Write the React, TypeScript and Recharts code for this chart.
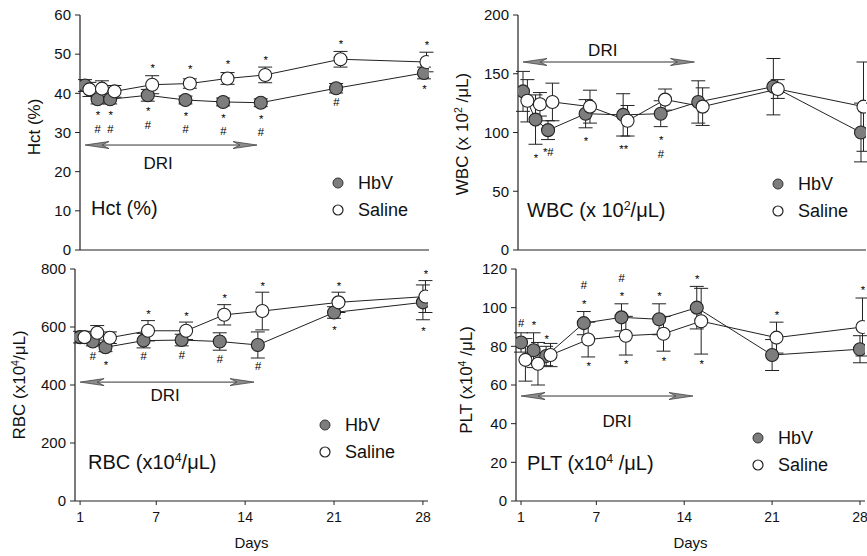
import React from 'react';
import { LineChart, Line, XAxis, YAxis, ErrorBar, ReferenceLine } from 'recharts';

const FONT = '"Liberation Sans", Arial, Helvetica, sans-serif';
const INK = '#111';
const HBV_FILL = '#7d7d7d';
const R = 6.5;

// sampling days (saline points are drawn slightly to the right, as in the figure)
const DAYS = [1, 2, 3, 6, 9, 12, 15, 21, 28];
const SALINE_DAYS = [1.35, 2.35, 3.35, 6.35, 9.35, 12.35, 15.35, 21.35, 28.2];
const DAY_TICKS = [1, 7, 14, 21, 28];
const DAY_DOMAIN = [0.6, 28.4];
const DRI_SPAN = [1, 14.7];

// Hct (%)
const hctTicks = [0, 10, 20, 30, 40, 50, 60];
const hctHbv = [42, 38.5, 38.5, 39.5, 38.3, 37.8, 37.6, 41.3, 45.2];
const hctHbvErr = [1.5, 1.2, 1.2, 1.5, 1, 1, 1, 1.2, 1.5];
const hctSaline = [41, 41.2, 40.5, 42.2, 42.5, 43.8, 44.7, 48.7, 48];
const hctSalineErr = [1.8, 2, 1.5, 2.3, 1.2, 1.5, 2, 2, 2.5];
const hctHbvBelow = ['', '*\n#', '*\n#', '*\n#', '*\n#', '*\n#', '*\n#', '#', '*'];
const hctSalineAbove = ['', '', '', '*', '*', '*', '*', '*', '*'];

// WBC (x10^2/uL)
const wbcTicks = [0, 50, 100, 150, 200];
const wbcHbv = [135, 111, 102, 116, 115, 116, 126, 139, 100];
const wbcHbvErr = [17, 21, 8, 12, 18, 11, 18, 24, 25];
const wbcSaline = [127, 124, 126, 122, 110, 128, 122, 137, 122];
const wbcSalineErr = [18, 10, 16, 14, 13, 9, 16, 8, 38];
const wbcHbvBelow = ['', '*', '*#', '*', '**', '*\n#', '', '', ''];

// RBC (x10^4/uL)
const rbcTicks = [0, 200, 400, 600, 800];
const rbcHbv = [565, 550, 530, 553, 555, 550, 538, 650, 685];
const rbcHbvErr = [20, 15, 15, 25, 20, 30, 45, 20, 60];
const rbcSaline = [565, 580, 563, 587, 587, 642, 655, 685, 705];
const rbcSalineErr = [20, 25, 20, 35, 30, 35, 65, 35, 55];
const rbcHbvBelow = ['', '#', '*', '#', '#', '#', '#', '*', '*'];
const rbcSalineAbove = ['', '', '', '*', '*', '*', '*', '*', '*'];

// PLT (x10^4/uL)
const pltTicks = [0, 20, 40, 60, 80, 100, 120];
const pltHbv = [82, 78, 75, 92, 95, 94, 100, 75.5, 78.5];
const pltHbvErr = [5, 9, 5, 6, 7, 8, 11, 8, 7];
const pltSaline = [73, 71, 75.5, 83.5, 85.5, 86.5, 93, 84.5, 90];
const pltSalineErr = [11, 11, 6, 9, 10, 9, 17, 8, 15];
const pltHbvAbove = ['#', '*', '*', '#\n*', '#\n*', '*', '*', '', ''];
const pltSalineAbove = ['', '', '', '', '', '', '', '*', '*'];
const pltSalineBelow = ['', '', '', '*', '*', '*', '*', '', ''];

type Row = { day: number; value: number; err: number; above: string; below: string };

const rows = (days: number[], values: number[], errs: number[], above: string[] = [], below: string[] = []): Row[] =>
  values.map((v, i) => ({ day: days[i], value: v, err: errs[i], above: above[i] || '', below: below[i] || '' }));

const NOTE_SIZE = 11.5;
const LINE_STEP = 16;
// vertical centre of the glyphs above their baseline
const glyphOffset = (t: string) => NOTE_SIZE * (t.includes('#') ? (t.includes('*') ? 0.45 : 0.34) : 0.56);

const Note = ({ x, c, t }: { x: number; c: number; t: string }) => (
  <text x={x} y={c + glyphOffset(t)} textAnchor="middle" fontSize={NOTE_SIZE} fontStyle="italic" fill="#000" fontFamily={FONT}>
    {t}
  </text>
);

const makeDot = (fill: string, ppu: number, gapAbove: number, gapBelow: number) => (props: any) => {
  const { cx, cy, payload, index } = props;
  if (cx == null || cy == null) return <g key={`e-${index}`} />;
  const ext = Math.max(R, payload.err * ppu);
  const above: string[] = payload.above ? payload.above.split('\n') : [];
  const below: string[] = payload.below ? payload.below.split('\n') : [];
  return (
    <g key={`d-${index}`}>
      <circle cx={cx} cy={cy} r={R} fill={fill} stroke="#222" strokeWidth={1.1} />
      {below.map((t, k) => (
        <Note key={`b${k}`} x={cx} c={cy + ext + gapBelow + k * LINE_STEP} t={t} />
      ))}
      {above.map((t, k) => (
        <Note key={`a${k}`} x={cx} c={cy - ext - gapAbove - (above.length - 1 - k) * LINE_STEP} t={t} />
      ))}
    </g>
  );
};

const driShape = (dx: number, dy: number) => (p: any) => {
  const { x1, x2, y1 } = p;
  const y = y1;
  const head = (tip: number, dir: number) =>
    `${tip},${y} ${tip + dir * 24},${y - 3.5} ${tip + dir * 17},${y} ${tip + dir * 24},${y + 3.5}`;
  return (
    <g>
      <line x1={x1 + 10} x2={x2 - 10} y1={y} y2={y} stroke="#333" strokeWidth={1} />
      <polygon points={head(x1, 1)} fill="#8c8c8c" stroke="#444" strokeWidth={0.8} />
      <polygon points={head(x2, -1)} fill="#8c8c8c" stroke="#444" strokeWidth={0.8} />
      <text x={(x1 + x2) / 2 + dx} y={y + dy + 6} textAnchor="middle" fontSize={17} fill={INK} fontFamily={FONT}>
        DRI
      </text>
    </g>
  );
};

type PanelCfg = {
  key: string;
  left: number;
  top: number;
  width: number;
  height: number;
  plotLeft: number;
  plotRight: number;
  plotTop: number;
  plotBottom: number;
  yMax: number;
  yTicks: number[];
  showX: boolean;
  hbv: Row[];
  saline: Row[];
  driY: number;
  driDx: number;
  driDy: number;
  gapAbove: number;
  gapBelow: number;
  yLabel: React.ReactNode;
  yLabelPos: { x: number; y: number };
  title: React.ReactNode;
  titlePos: { x: number; y: number };
  keyPos: { x: number; y: number };
};

const sup = (t: string) => <sup style={{ fontSize: '0.62em', verticalAlign: '0.55em', lineHeight: 0 }}>{t}</sup>;

const PANELS: PanelCfg[] = [
  {
    key: 'hct', left: 0, top: 0, width: 440, height: 265,
    plotLeft: 80, plotRight: 429, plotTop: 15, plotBottom: 250,
    yMax: 60, yTicks: hctTicks, showX: false,
    hbv: rows(DAYS, hctHbv, hctHbvErr, [], hctHbvBelow),
    saline: rows(SALINE_DAYS, hctSaline, hctSalineErr, hctSalineAbove),
    driY: 26.8, driDx: -13, driDy: 18, gapAbove: 10, gapBelow: 7,
    yLabel: <>Hct (%)</>, yLabelPos: { x: 35, y: 127 },
    title: <>Hct (%)</>, titlePos: { x: 91, y: 208 },
    keyPos: { x: 338, y: 183 },
  },
  {
    key: 'wbc', left: 440, top: 0, width: 427, height: 265,
    plotLeft: 518, plotRight: 866, plotTop: 15, plotBottom: 250,
    yMax: 200, yTicks: wbcTicks, showX: false,
    hbv: rows(DAYS, wbcHbv, wbcHbvErr, [], wbcHbvBelow),
    saline: rows(SALINE_DAYS, wbcSaline, wbcSalineErr),
    driY: 160, driDx: -6, driDy: -12, gapAbove: 10, gapBelow: 11,
    yLabel: <>WBC (x 10{sup('2')} /μL)</>, yLabelPos: { x: 463, y: 134 },
    title: <>WBC (x 10{sup('2')}/μL)</>, titlePos: { x: 527, y: 210 },
    keyPos: { x: 778, y: 184 },
  },
  {
    key: 'rbc', left: 0, top: 254, width: 440, height: 302,
    plotLeft: 75, plotRight: 428, plotTop: 269, plotBottom: 501,
    yMax: 800, yTicks: rbcTicks, showX: true,
    hbv: rows(DAYS, rbcHbv, rbcHbvErr, [], rbcHbvBelow),
    saline: rows(SALINE_DAYS, rbcSaline, rbcSalineErr, rbcSalineAbove),
    driY: 410, driDx: -2, driDy: 13, gapAbove: 9, gapBelow: 8.5,
    yLabel: <>RBC (x10{sup('4')}/μL)</>, yLabelPos: { x: 20, y: 385 },
    title: <>RBC (x10{sup('4')}/μL)</>, titlePos: { x: 88, y: 462 },
    keyPos: { x: 325, y: 425 },
  },
  {
    key: 'plt', left: 440, top: 254, width: 427, height: 302,
    plotLeft: 516, plotRight: 865, plotTop: 269, plotBottom: 501,
    yMax: 120, yTicks: pltTicks, showX: true,
    hbv: rows(DAYS, pltHbv, pltHbvErr, pltHbvAbove),
    saline: rows(SALINE_DAYS, pltSaline, pltSalineErr, pltSalineAbove, pltSalineBelow),
    driY: 54.3, driDx: 10, driDy: 25, gapAbove: 10, gapBelow: 7,
    yLabel: <>PLT (x10{sup('4')} /μL)</>, yLabelPos: { x: 467, y: 380 },
    title: <>PLT (x10{sup('4')} /μL)</>, titlePos: { x: 527, y: 463 },
    keyPos: { x: 758, y: 438 },
  },
];

const axisLine = { stroke: '#222', strokeWidth: 1.2 };
const tickLine = { stroke: '#222', strokeWidth: 1 };

const KeyBox = ({ x, y }: { x: number; y: number }) => (
  <>
    <svg style={{ position: 'absolute', left: x - 7, top: y - 7 }} width={14} height={14}>
      <circle cx={7} cy={7} r={5} fill={HBV_FILL} stroke="#333" strokeWidth={1} />
    </svg>
    <div style={{ position: 'absolute', left: x + 20, top: y - 11, fontSize: 18, lineHeight: '22px' }}>HbV</div>
    <svg style={{ position: 'absolute', left: x - 7, top: y + 27 - 7 }} width={14} height={14}>
      <circle cx={7} cy={7} r={5} fill="#fff" stroke="#222" strokeWidth={1.2} />
    </svg>
    <div style={{ position: 'absolute', left: x + 20, top: y + 27 - 11, fontSize: 18, lineHeight: '22px' }}>Saline</div>
  </>
);

const Panel = ({ cfg }: { cfg: PanelCfg }) => {
  const ppu = (cfg.plotBottom - cfg.plotTop) / cfg.yMax;
  const margin = {
    top: cfg.plotTop - cfg.top,
    right: cfg.left + cfg.width - cfg.plotRight,
    bottom: 0,
    left: 0,
  };
  const xHeight = cfg.top + cfg.height - cfg.plotBottom;
  return (
    <>
      <div style={{ position: 'absolute', left: cfg.left, top: cfg.top }}>
        <LineChart width={cfg.width} height={cfg.height} margin={margin}>
          <XAxis
            dataKey="day"
            type="number"
            domain={DAY_DOMAIN}
            ticks={DAY_TICKS}
            allowDataOverflow
            height={xHeight}
            axisLine={axisLine}
            tickLine={tickLine}
            tickSize={4}
            tickMargin={7}
            tick={cfg.showX ? { fill: INK, fontSize: 14, fontFamily: FONT } : false}
            label={cfg.showX ? { value: 'Days', position: 'insideBottom', offset: 8, fill: INK, fontSize: 15, fontFamily: FONT } : undefined}
          />
          <XAxis
            xAxisId="top"
            orientation="top"
            type="number"
            domain={DAY_DOMAIN}
            ticks={DAY_TICKS}
            allowDataOverflow
            height={0}
            mirror
            tick={false}
            tickSize={4}
            axisLine={axisLine}
            tickLine={tickLine}
          />
          <YAxis
            type="number"
            domain={[0, cfg.yMax]}
            ticks={cfg.yTicks}
            width={cfg.plotLeft - cfg.left}
            axisLine={axisLine}
            tickLine={tickLine}
            tickSize={5}
            tickMargin={4}
            tick={{ fill: INK, fontSize: 15, fontFamily: FONT }}
          />
          <YAxis
            yAxisId="right"
            orientation="right"
            type="number"
            domain={[0, cfg.yMax]}
            ticks={cfg.yTicks}
            width={0}
            mirror
            tick={false}
            tickSize={4}
            axisLine={axisLine}
            tickLine={tickLine}
          />
          <ReferenceLine
            segment={[
              { x: DRI_SPAN[0], y: cfg.driY },
              { x: DRI_SPAN[1], y: cfg.driY },
            ]}
            shape={driShape(cfg.driDx, cfg.driDy)}
          />
          <Line
            data={cfg.hbv}
            dataKey="value"
            type="linear"
            stroke="#222"
            strokeWidth={1}
            dot={makeDot(HBV_FILL, ppu, cfg.gapAbove, cfg.gapBelow)}
            activeDot={false}
            isAnimationActive={false}
          >
            <ErrorBar dataKey="err" direction="y" width={7} stroke="#222" strokeWidth={1} />
          </Line>
          <Line
            data={cfg.saline}
            dataKey="value"
            type="linear"
            stroke="#222"
            strokeWidth={1}
            dot={makeDot('#fff', ppu, cfg.gapAbove, cfg.gapBelow)}
            activeDot={false}
            isAnimationActive={false}
          >
            <ErrorBar dataKey="err" direction="y" width={7} stroke="#222" strokeWidth={1} />
          </Line>
        </LineChart>
      </div>
      <div
        style={{
          position: 'absolute',
          left: cfg.yLabelPos.x,
          top: cfg.yLabelPos.y,
          transform: 'translate(-50%, -50%) rotate(-90deg)',
          whiteSpace: 'nowrap',
          fontSize: 17,
        }}
      >
        {cfg.yLabel}
      </div>
      <div style={{ position: 'absolute', left: cfg.titlePos.x, top: cfg.titlePos.y - 12, fontSize: 20, lineHeight: '24px', whiteSpace: 'nowrap' }}>
        {cfg.title}
      </div>
      <KeyBox x={cfg.keyPos.x} y={cfg.keyPos.y} />
    </>
  );
};

export default function App() {
  return (
    <div
      style={{
        position: 'absolute',
        left: 0,
        top: 0,
        width: 867,
        height: 556,
        background: '#fff',
        overflow: 'hidden',
        fontFamily: FONT,
        color: INK,
      }}
    >
      {PANELS.map((p) => (
        <Panel key={p.key} cfg={p} />
      ))}
    </div>
  );
}
